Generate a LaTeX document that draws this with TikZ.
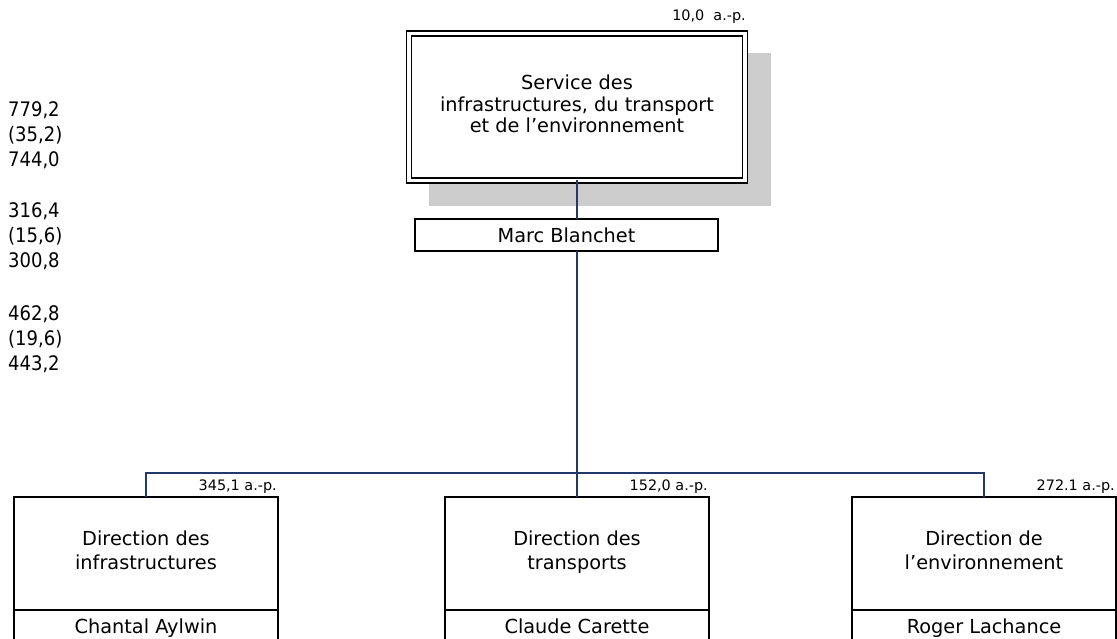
\documentclass[tikz,border=0pt]{standalone}
\usepackage{fontspec}
\setmainfont{DejaVu Sans}
\newfontfamily\condfont{DejaVu Sans Condensed}
\definecolor{navy}{HTML}{1F3A6B}
\definecolor{shadowgray}{HTML}{CCCCCC}
\begin{document}
\begin{tikzpicture}[x=1pt,y=-1pt,
  conn/.style={draw=navy,line width=2pt},
  box/.style={draw=black,fill=white,line width=1.7pt,inner sep=0pt,outer sep=0pt,align=center,font=\fontsize{19.3}{24}\selectfont},
  dirbox/.style={box,minimum width=264pt,minimum height=113pt,execute at begin node=\strut,execute at end node=\strut},
  namebox/.style={box,anchor=north,minimum width=264pt,text height=14pt,text depth=20pt,inner ysep=9pt},
  fte/.style={anchor=base east,inner sep=0pt,font=\fontsize{14.4}{16}\selectfont},
  num/.style={anchor=base west,inner sep=0pt,font=\condfont\fontsize{20}{25}\selectfont}]
\useasboundingbox (0,0) rectangle (1117,639);
\clip (0,0) rectangle (1117,639);
\fill[shadowgray] (429,53) rectangle (771,206);
\node[box,double,double distance=3.5pt,line width=1.6pt,minimum width=336pt,minimum height=147pt,text depth=6pt,font=\fontsize{19.3}{21.5}\selectfont] (svc) at (577,107) {Service des\\infrastructures, du transport\\et de l’environnement};
\node[box,minimum width=303pt,minimum height=32pt] (marc) at (566.5,235) {Marc Blanchet};
\node[fte] (f0) at (746,21) {10,0~~a.-p.};
\node[dirbox] (dir1) at (146,553.5) {Direction des\\infrastructures};
\node[dirbox] (dir2) at (577,553.5) {Direction des\\transports};
\node[dirbox] (dir3) at (984,553.5) {Direction de\\l’environnement};
\node[namebox] (n1) at (dir1.south) {Chantal Aylwin};
\node[namebox] (n2) at (dir2.south) {Claude Carette};
\node[namebox] (n3) at (dir3.south) {Roger Lachance};
\node[fte] (f1) at (277,490) {345,1 a.-p.};
\node[fte] (f2) at (708,490) {152,0 a.-p.};
\node[fte] (f3) at (1115,490) {272.1 a.-p.};
\coordinate (busL) at (146,473);
\draw[conn] (svc.south) -- (svc.south |- marc.north);
\draw[conn] (svc.south |- marc.south) -- (dir2.north);
\draw[conn] (dir1.north) -- (busL) -| (dir3.north);
\node[num] (a1) at (8,116.5) {779,2};
\node[num] (a2) at (8,141.5) {(35,2)};
\node[num] (a3) at (8,166.5) {744,0};
\node[num] (b1) at (8,218) {316,4};
\node[num] (b2) at (8,243) {(15,6)};
\node[num] (b3) at (8,268) {300,8};
\node[num] (c1) at (8,320) {462,8};
\node[num] (c2) at (8,345) {(19,6)};
\node[num] (c3) at (8,370) {443,2};
\end{tikzpicture}
\end{document}
